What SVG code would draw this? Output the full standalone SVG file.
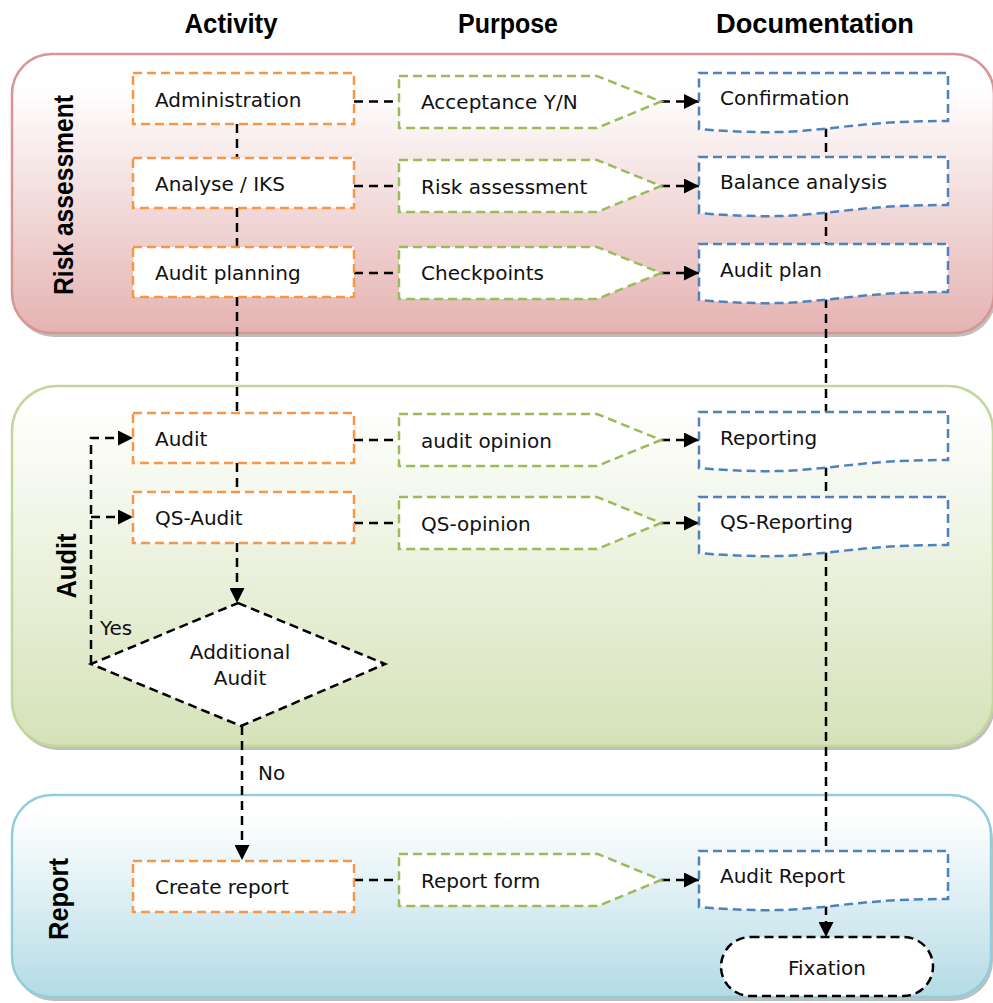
<svg xmlns="http://www.w3.org/2000/svg" width="993" height="1003" viewBox="0 0 993 1003">
<style>
.hdr{font-family:"Liberation Sans",Arial,sans-serif;font-weight:bold;font-size:27px;fill:#000}
.lt{font-family:"Liberation Sans",Arial,sans-serif;font-weight:bold;font-size:27px;fill:#000}
.t{font-family:"DejaVu Sans","Liberation Sans",sans-serif;font-size:20px;fill:#111}
.act{fill:#fff;stroke:#f79646;stroke-width:2.5;stroke-dasharray:9 5}
.pur{fill:#fff;stroke:#9bbb59;stroke-width:2.5;stroke-dasharray:9 5}
.doc{fill:#fff;stroke:#4f81bd;stroke-width:2.5;stroke-dasharray:9 5}
.blk{fill:#fff;stroke:#000;stroke-width:2.5;stroke-dasharray:9 5}
.c{fill:none;stroke:#000;stroke-width:2.5;stroke-dasharray:9 6}
.ca{fill:none;stroke:#000;stroke-width:2.5;stroke-dasharray:9 6;marker-end:url(#arr)}
.shadow{fill:#8a8a8a;opacity:0.55}
</style>
<defs>
<marker id="arr" viewBox="0 0 10 10" refX="10" refY="5" markerWidth="15" markerHeight="15" markerUnits="userSpaceOnUse" orient="auto">
<path d="M0,0 L10,5 L0,10 Z" fill="#000"/>
</marker>
<linearGradient id="gRisk" x1="0" y1="0" x2="0" y2="1">
<stop offset="0.12" stop-color="#ffffff"/>
<stop offset="1" stop-color="#e4b3b2"/>
</linearGradient>
<linearGradient id="gAudit" x1="0" y1="0" x2="0" y2="1">
<stop offset="0.05" stop-color="#ffffff"/>
<stop offset="1" stop-color="#d5e2b8"/>
</linearGradient>
<linearGradient id="gRep" x1="0" y1="0" x2="0" y2="1">
<stop offset="0.1" stop-color="#ffffff"/>
<stop offset="1" stop-color="#b4dbe5"/>
</linearGradient>
</defs>

<!-- Headers -->
<g id="headers">
<text class="hdr" x="231" y="33" text-anchor="middle" textLength="93" lengthAdjust="spacingAndGlyphs">Activity</text>
<text class="hdr" x="508" y="33" text-anchor="middle" textLength="100" lengthAdjust="spacingAndGlyphs">Purpose</text>
<text class="hdr" x="815" y="33" text-anchor="middle" textLength="198" lengthAdjust="spacingAndGlyphs">Documentation</text>
</g>

<!-- Lanes -->
<g id="lane-risk">
<rect class="shadow" x="14" y="58" width="982" height="279" rx="40"/>
<rect x="12" y="54" width="982" height="279" rx="40" fill="url(#gRisk)" stroke="#d99594" stroke-width="2.5"/>
<text class="lt" transform="translate(73,195) rotate(-90)" text-anchor="middle" textLength="200" lengthAdjust="spacingAndGlyphs">Risk assessment</text>
</g>
<g id="lane-audit">
<rect class="shadow" x="14" y="390" width="981" height="360" rx="45"/>
<rect x="12" y="386" width="981" height="360" rx="45" fill="url(#gAudit)" stroke="#c3d69b" stroke-width="2.5"/>
<text class="lt" transform="translate(76,566) rotate(-90)" text-anchor="middle" textLength="65" lengthAdjust="spacingAndGlyphs">Audit</text>
</g>
<g id="lane-report">
<rect class="shadow" x="14" y="799" width="979" height="202" rx="40"/>
<rect x="12" y="795" width="979" height="202" rx="40" fill="url(#gRep)" stroke="#92cddc" stroke-width="2.5"/>
<text class="lt" transform="translate(68,899) rotate(-90)" text-anchor="middle" textLength="82" lengthAdjust="spacingAndGlyphs">Report</text>
</g>

<!-- Connectors -->
<g id="connectors">
<path class="c" d="M237,124 V158"/>
<path class="c" d="M237,208 V247"/>
<path class="c" d="M237,297 V413"/>
<path class="c" d="M237,463 V492"/>
<path class="ca" d="M237,543 V603"/>
<path class="ca" d="M91,664 V438 H133"/>
<path class="ca" d="M91,517 H133"/>
<path class="ca" d="M242,726 V860"/>
<path class="c" d="M354,101.5 H399"/>
<path class="c" d="M354,186 H399"/>
<path class="c" d="M354,273 H399"/>
<path class="c" d="M354,440 H399"/>
<path class="c" d="M354,523 H399"/>
<path class="c" d="M354,880 H399"/>
<path class="ca" d="M661,101.5 H699"/>
<path class="ca" d="M661,186 H699"/>
<path class="ca" d="M661,273 H699"/>
<path class="ca" d="M661,440 H699"/>
<path class="ca" d="M661,523 H699"/>
<path class="ca" d="M661,880 H699"/>
<path class="c" d="M826,128 V157"/>
<path class="c" d="M826,212 V244"/>
<path class="c" d="M826,299 V412"/>
<path class="c" d="M826,467 V497"/>
<path class="c" d="M826,552 V851"/>
<path class="ca" d="M826,906 V937"/>
</g>

<!-- Activity nodes -->
<g id="n-administration"><rect class="act" x="133" y="73" width="221" height="51"/><text class="t" x="155" y="107">Administration</text></g>
<g id="n-analyse"><rect class="act" x="133" y="158" width="221" height="50"/><text class="t" x="155" y="191">Analyse / IKS</text></g>
<g id="n-auditplanning"><rect class="act" x="133" y="247" width="221" height="50"/><text class="t" x="155" y="280">Audit planning</text></g>
<g id="n-audit"><rect class="act" x="133" y="413" width="221" height="50"/><text class="t" x="155" y="446">Audit</text></g>
<g id="n-qsaudit"><rect class="act" x="133" y="492" width="221" height="51"/><text class="t" x="155" y="525">QS-Audit</text></g>
<g id="n-createreport"><rect class="act" x="133" y="861" width="221" height="51"/><text class="t" x="155" y="894">Create report</text></g>

<!-- Decision -->
<g id="n-additional">
<path class="blk" d="M238,603 L385,664 L241,726 L91,664 Z"/>
<text class="t" x="240" y="659" text-anchor="middle">Additional</text>
<text class="t" x="240" y="685" text-anchor="middle">Audit</text>
</g>
<g id="labels">
<text class="t" x="100" y="635">Yes</text>
<text class="t" x="258" y="780">No</text>
</g>

<!-- Purpose nodes -->
<g id="n-acceptance"><path class="pur" d="M399,76 H597 L661,101.5 L597,128 H399 Z"/><text class="t" x="421" y="109">Acceptance Y/N</text></g>
<g id="n-riskassessment"><path class="pur" d="M399,160 H597 L661,186 L597,212 H399 Z"/><text class="t" x="421" y="194">Risk assessment</text></g>
<g id="n-checkpoints"><path class="pur" d="M399,247 H597 L661,273 L597,299 H399 Z"/><text class="t" x="421" y="280">Checkpoints</text></g>
<g id="n-auditopinion"><path class="pur" d="M399,414 H597 L661,440 L597,466 H399 Z"/><text class="t" x="421" y="448">audit opinion</text></g>
<g id="n-qsopinion"><path class="pur" d="M399,497 H597 L661,523 L597,549 H399 Z"/><text class="t" x="421" y="531">QS-opinion</text></g>
<g id="n-reportform"><path class="pur" d="M399,854 H598 L661,880 L598,906 H399 Z"/><text class="t" x="421" y="888">Report form</text></g>

<!-- Document nodes -->
<g id="n-confirmation"><path class="doc" d="M699,73 H948 V121 C823.5,121 823.5,139.4 699,129 Z"/><text class="t" x="720" y="105">Confirmation</text></g>
<g id="n-balance"><path class="doc" d="M699,157 H948 V205 C823.5,205 823.5,223.4 699,213 Z"/><text class="t" x="720" y="189">Balance analysis</text></g>
<g id="n-auditplan"><path class="doc" d="M699,244 H948 V292 C823.5,292 823.5,310.4 699,300 Z"/><text class="t" x="720" y="277">Audit plan</text></g>
<g id="n-reporting"><path class="doc" d="M699,412 H948 V460 C823.5,460 823.5,478.4 699,468 Z"/><text class="t" x="720" y="445">Reporting</text></g>
<g id="n-qsreporting"><path class="doc" d="M699,497 H948 V545 C823.5,545 823.5,563.4 699,553 Z"/><text class="t" x="720" y="529">QS-Reporting</text></g>
<g id="n-auditreport"><path class="doc" d="M699,851 H948 V899 C823.5,899 823.5,917.4 699,907 Z"/><text class="t" x="720" y="883">Audit Report</text></g>

<!-- Terminal -->
<g id="n-fixation"><rect class="blk" x="721" y="937" width="212" height="59" rx="29.5"/><text class="t" x="827" y="975" text-anchor="middle">Fixation</text></g>
</svg>
